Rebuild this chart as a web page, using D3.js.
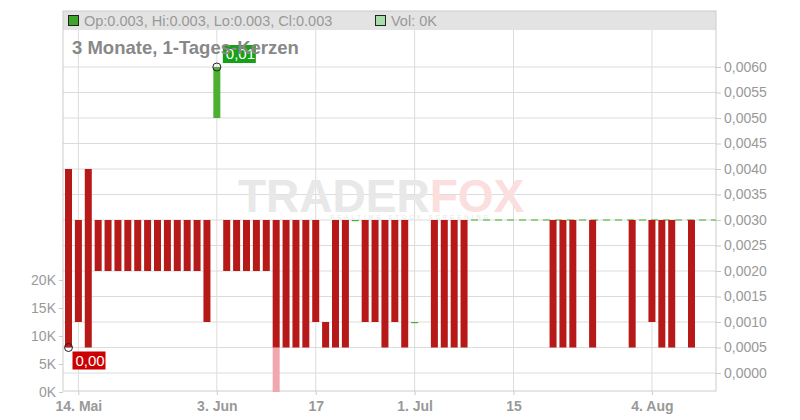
<!DOCTYPE html>
<html><head><meta charset="utf-8">
<script src="https://cdn.jsdelivr.net/npm/d3@7"></script>
<style>body{margin:0;background:#fff;font-family:"Liberation Sans",Arial,sans-serif}</style>
</head><body><svg id="c" width="800" height="420"></svg>
<script>
// trading days 13 May 2025 .. 8 Aug 2025
const dates = ["05-13","05-14","05-15","05-16","05-19","05-20","05-21","05-22","05-23","05-26","05-27","05-28","05-29","05-30",
"06-02","06-03","06-04","06-05","06-06","06-09","06-10","06-11","06-12","06-13","06-16","06-17","06-18","06-19","06-20","06-23","06-24","06-25","06-26","06-27","06-30",
"07-01","07-02","07-03","07-04","07-07","07-08","07-09","07-10","07-11","07-14","07-15","07-16","07-17","07-18","07-21","07-22","07-23","07-24","07-25","07-28","07-29","07-30","07-31",
"08-01","08-04","08-05","08-06","08-07","08-08"];
const N = null;
const open  = [0.004,0.003,0.004,0.003,0.003,0.003,0.003,0.003,0.003,0.003,0.003,0.003,0.003,0.003,
0.003,0.005,0.003,0.003,0.003,0.003,0.003,0.003,0.003,0.003,0.003,0.003,0.001,0.003,0.003,0.003,0.003,0.003,0.003,0.003,0.003,
0.001,N,0.003,0.003,0.003,0.003,N,N,N,N,N,N,N,N,0.003,0.003,0.003,N,0.003,N,N,N,0.003,
N,0.003,0.003,0.003,N,0.003];
const close = [0.0005,0.001,0.0005,0.002,0.002,0.002,0.002,0.002,0.002,0.002,0.002,0.002,0.002,0.002,
0.001,0.006,0.002,0.002,0.002,0.002,0.002,0.0005,0.0005,0.0005,0.0005,0.001,0.0005,0.0005,0.0005,0.003,0.001,0.001,0.0005,0.001,0.0005,
0.001,N,0.0005,0.0005,0.0005,0.0005,N,N,N,N,N,N,N,N,0.0005,0.0005,0.0005,N,0.0005,N,N,N,0.0005,
N,0.001,0.0005,0.0005,N,0.0005];
const volume = dates.map((d,i)=> d==="06-11" ? 8000 : 0);
const xTicks = [["05-14","14. Mai"],["06-03","3. Jun"],["06-17","17"],["07-01","1. Jul"],["07-15","15"],["08-04","4. Aug"]];
const priceTicks = [0,0.0005,0.001,0.0015,0.002,0.0025,0.003,0.0035,0.004,0.0045,0.005,0.0055,0.006];
const volTicks = [0,5000,10000,15000,20000];

const svg = d3.select("#c");
const L=63,R=716,T=11,B=391;
const x = d3.scalePoint().domain(dates).range([68.5,691.5]);
const y = d3.scaleLinear().domain([0,0.006]).range([373,67]);
const yv = d3.scaleLinear().domain([0,20000]).range([392,280]);
const grid="#dcdcdc", txt="#999";

// grid
priceTicks.forEach(p=>svg.append("line").attr("x1",L).attr("x2",R).attr("y1",y(p)).attr("y2",y(p)).attr("stroke",grid));
xTicks.forEach(t=>svg.append("line").attr("x1",x(t[0])).attr("x2",x(t[0])).attr("y1",T).attr("y2",B).attr("stroke",grid));
// header band
svg.append("rect").attr("x",L).attr("y",T).attr("width",R-L).attr("height",19).attr("fill","#e3e3e3");
svg.append("rect").attr("x",L).attr("y",T).attr("width",R-L).attr("height",B-T).attr("fill","none").attr("stroke","#ccc");
// watermark
const wm = svg.append("text").attr("x",238).attr("y",212).attr("font-size",46).attr("font-weight","bold");
wm.append("tspan").attr("fill","#e8e8e8").text("TRADER");
wm.append("tspan").attr("fill","#fbdede").text("FOX");
svg.append("text").attr("x",330).attr("y",219).attr("font-size",6).attr("letter-spacing",3).attr("fill","#e6e6e6").text("REALTIME STOCK SCREENING");

// axes
const ay = d3.axisRight(y).tickValues(priceTicks).tickSize(5).tickSizeOuter(0).tickFormat(d=>d3.format(".4f")(d).replace(".",","));
const gy = svg.append("g").attr("transform",`translate(${R},0)`).call(ay);
const av = d3.axisLeft(yv).tickValues(volTicks).tickSize(4).tickSizeOuter(0).tickFormat(d=>(d/1000)+"K");
const gv = svg.append("g").attr("transform",`translate(${L},0)`).call(av);
const ax = d3.axisBottom(x).tickValues(xTicks.map(t=>t[0])).tickSize(4).tickSizeOuter(0).tickFormat(d=>xTicks.find(t=>t[0]===d)[1]);
const gx = svg.append("g").attr("transform",`translate(0,${B})`).call(ax);
[gy,gv,gx].forEach(g=>{g.select(".domain").remove();g.selectAll(".tick line").attr("stroke","#ccc");
 g.selectAll("text").attr("fill",txt).attr("font-size",14).attr("font-family","Liberation Sans, Arial");});
gx.selectAll("text").attr("font-weight","bold").attr("dy","0.9em");

// last price dashed line
svg.append("line").attr("x1",471).attr("x2",R).attr("y1",y(0.003)).attr("y2",y(0.003)).attr("stroke","#3cb521").attr("stroke-dasharray","7,5");

// volume
svg.selectAll(".vol").data(dates.map((d,i)=>({d,v:volume[i]})).filter(o=>o.v>0)).join("rect")
 .attr("x",o=>x(o.d)-3.5).attr("width",7).attr("y",o=>yv(o.v)).attr("height",o=>yv(0)-yv(o.v)).attr("fill","#f0a8b0");

// candles
const cd = dates.map((d,i)=>({d,o:open[i],c:close[i]})).filter(o=>o.o!==null);
svg.selectAll(".cdl").data(cd).join("rect")
 .attr("x",o=>x(o.d)-3.5).attr("width",7)
 .attr("y",o=>Math.min(y(o.o),y(o.c))).attr("height",o=>Math.max(1.2,Math.abs(y(o.o)-y(o.c))))
 .attr("fill",o=>o.c>=o.o?"#4cae32":"#b71818");

// markers & labels
function marker(d,p,txtv,fill,dx,dy){
 svg.append("circle").attr("cx",x(d)).attr("cy",y(p)).attr("r",4).attr("fill","none").attr("stroke","#222");
 const g=svg.append("g").attr("transform",`translate(${x(d)+dx},${y(p)+dy})`);
 g.append("rect").attr("width",33).attr("height",18).attr("fill",fill);
 g.append("text").attr("x",3).attr("y",14).attr("fill","#fff").attr("font-size",15).text(txtv);
}
marker("06-03",0.006,"0,01","#16a016",6,-22);
marker("05-13",0.0005,"0,00","#cc0000",4,4);

// title
svg.append("text").attr("x",72).attr("y",54).attr("font-size",18.5).attr("font-weight","bold").attr("fill","#888").text("3 Monate, 1-Tages-Kerzen");
// header legend
svg.append("rect").attr("x",68.5).attr("y",15.5).attr("width",10).attr("height",10).attr("fill","#3ea52a").attr("stroke","#222");
svg.append("text").attr("x",84).attr("y",26).attr("font-size",14.5).attr("fill","#999").text("Op:0.003, Hi:0.003, Lo:0.003, Cl:0.003");
svg.append("rect").attr("x",375.5).attr("y",15.5).attr("width",10).attr("height",10).attr("fill","#a8dca8").attr("stroke","#222");
svg.append("text").attr("x",391).attr("y",26).attr("font-size",14.5).attr("fill","#999").text("Vol: 0K");
</script></body></html>
